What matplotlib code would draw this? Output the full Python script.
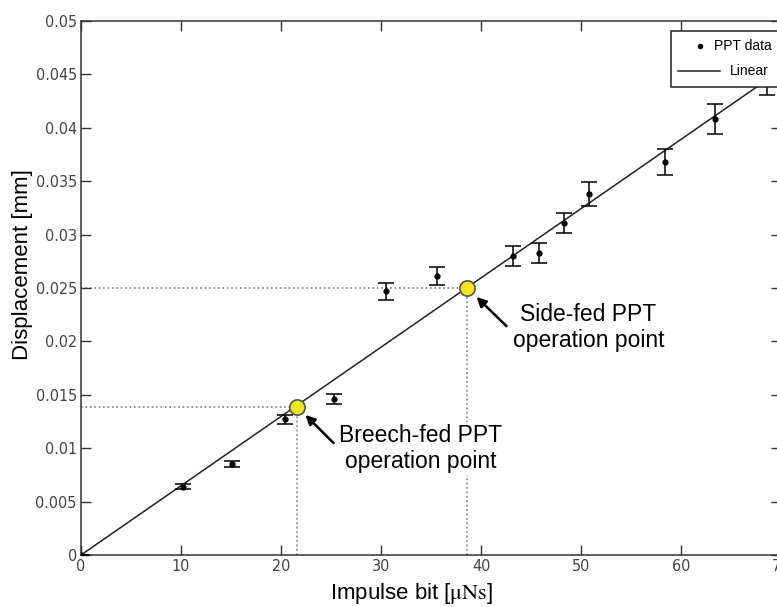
import matplotlib
matplotlib.use("Agg")
import matplotlib.pyplot as plt
from matplotlib import font_manager
from matplotlib.lines import Line2D
from matplotlib.patches import Rectangle

# measured impulse bit [uNs] vs displacement [mm]
impulse = [0.0, 10.2, 15.1, 20.4, 25.3, 30.5, 35.6, 43.2, 45.8, 48.3, 50.8, 58.4, 63.4, 68.6]
displ = [0.0, 0.0064, 0.0085, 0.0127, 0.0146, 0.0247, 0.0261, 0.0280, 0.0283,
         0.0311, 0.0338, 0.0368, 0.0408, 0.0446]
displ_err = [0.0, 0.00025, 0.0003, 0.00044, 0.00044, 0.00078, 0.00084, 0.0009,
             0.00094, 0.00094, 0.00114, 0.00125, 0.0014, 0.0015]

# linear fit end points
fit_x = [0, 70]
fit_y = [0, 0.0454]

# operation points
op_names = ["Breech-fed PPT\noperation point", "Side-fed PPT\noperation point"]
op_x = [21.6, 38.6]
op_y = [0.0139, 0.0250]

legend_labels = ["PPT data", "Linear"]

xticks = [0, 10, 20, 30, 40, 50, 60, 70]
yticks = [0, 0.005, 0.01, 0.015, 0.02, 0.025, 0.03, 0.035, 0.04, 0.045, 0.05]
ytick_labels = ["0", "0.005", "0.01", "0.015", "0.02", "0.025", "0.03",
                "0.035", "0.04", "0.045", "0.05"]

plt.rcParams['mathtext.fontset'] = 'stix'
label_font = ['Liberation Sans', 'DejaVu Sans']

# look for a narrow face for the tick labels (MATLAB style), else shrink
names = {f.name for f in font_manager.fontManager.ttflist}
condensed = [f for f in font_manager.fontManager.ttflist
             if f.name == 'DejaVu Sans' and 'condensed' in str(f.stretch)]
if 'Liberation Sans Narrow' in names:
    tick_kw = dict(family='Liberation Sans Narrow', size=12.5)
elif condensed:
    tick_kw = dict(family='DejaVu Sans', stretch='condensed', size=11.5)
else:
    tick_kw = dict(family='Liberation Sans', size=11)

W, H = 777, 607
fig = plt.figure(figsize=(W / 100, H / 100), dpi=100)
ax = fig.add_axes([81 / W, 1 - 555 / H, 700 / W, 534 / H])


def fx(px):
    return px / W


def fy(py):
    return 1 - py / H


# dotted guide lines to the operation points
for px, py in zip(op_x, op_y):
    ax.plot([0, px], [py, py], ls=':', color='#808080', lw=1.2, zorder=1)
    ax.plot([px, px], [0, py], ls=':', color='#808080', lw=1.2, zorder=1)

ax.plot(fit_x, fit_y, color='#222222', lw=1.1, zorder=2)
ax.errorbar(impulse, displ, yerr=displ_err, fmt='o', color='k', ms=3.5,
            ecolor='k', elinewidth=1.1, capsize=5.5, capthick=1.1, zorder=3)
ax.plot(op_x, op_y, 'o', ms=11, mfc='#f2e51c', mec='#555555', mew=1.2, zorder=5)

# annotations
ax.annotate('', xy=(22.25, 0.0133), xytext=(25.45, 0.0103),
            arrowprops=dict(arrowstyle='-|>', color='k', lw=1.8, mutation_scale=14),
            zorder=6)
ax.annotate('', xy=(39.35, 0.02434), xytext=(42.75, 0.02125),
            arrowprops=dict(arrowstyle='-|>', color='k', lw=1.8, mutation_scale=14),
            zorder=6)
ax.text(33.95, 0.00997, op_names[0], ha='center', va='center', fontsize=16.5,
        family=label_font, linespacing=1.2, zorder=4,
        bbox=dict(facecolor='white', edgecolor='none', pad=1))
ax.text(50.75, 0.0213, op_names[1], ha='center', va='center', fontsize=16.5,
        family=label_font, linespacing=1.2, zorder=4)

ax.set_xlim(0, 70)
ax.set_ylim(0, 0.05)
ax.set_xticks(xticks)
ax.set_yticks(yticks)
ax.set_yticklabels(ytick_labels)
ax.tick_params(direction='in', length=7, width=1, top=True, right=True,
               colors='#333333', labelcolor='#444444')
ax.tick_params(axis='x', pad=3)
ax.tick_params(axis='y', pad=3)
for lab in ax.get_xticklabels() + ax.get_yticklabels():
    lab.set_fontproperties(font_manager.FontProperties(**tick_kw))
for sp in ax.spines.values():
    sp.set_color('#333333')
    sp.set_linewidth(1.1)

ax.set_xlabel(r'Impulse bit [$\mathrm{\mu Ns}$]', fontsize=16, family=label_font)
ax.xaxis.set_label_coords((412 - 81) / 700, -(594 - 555) / 534)
ax.xaxis.label.set_va('center')
ax.set_ylabel('Displacement [mm]', fontsize=16, family=label_font)
ax.yaxis.set_label_coords(-(81 - 22) / 700, (555 - 265) / 534)
ax.yaxis.label.set_va('center')

# legend box (MATLAB legend, cut by the right edge of the figure)
fig.patches.append(Rectangle((fx(671), fy(87)), fx(140), 56 / H,
                             transform=fig.transFigure, facecolor='white',
                             edgecolor='#222222', lw=1.1, zorder=10))
fig.lines.append(Line2D([fx(700)], [fy(46)], ls='none', marker='o', ms=3,
                        color='k', transform=fig.transFigure, zorder=11))
fig.lines.append(Line2D([fx(678), fx(720)], [fy(71), fy(71)], color='#222222',
                        lw=1.1, transform=fig.transFigure, zorder=11))
fig.text(fx(772), fy(46), legend_labels[0], ha='right', va='center',
         fontsize=10, family=label_font, zorder=12)
fig.text(fx(769), fy(71), legend_labels[1], ha='right', va='center',
         fontsize=10, family=label_font, zorder=12)

fig.savefig('out.png', dpi=100)
